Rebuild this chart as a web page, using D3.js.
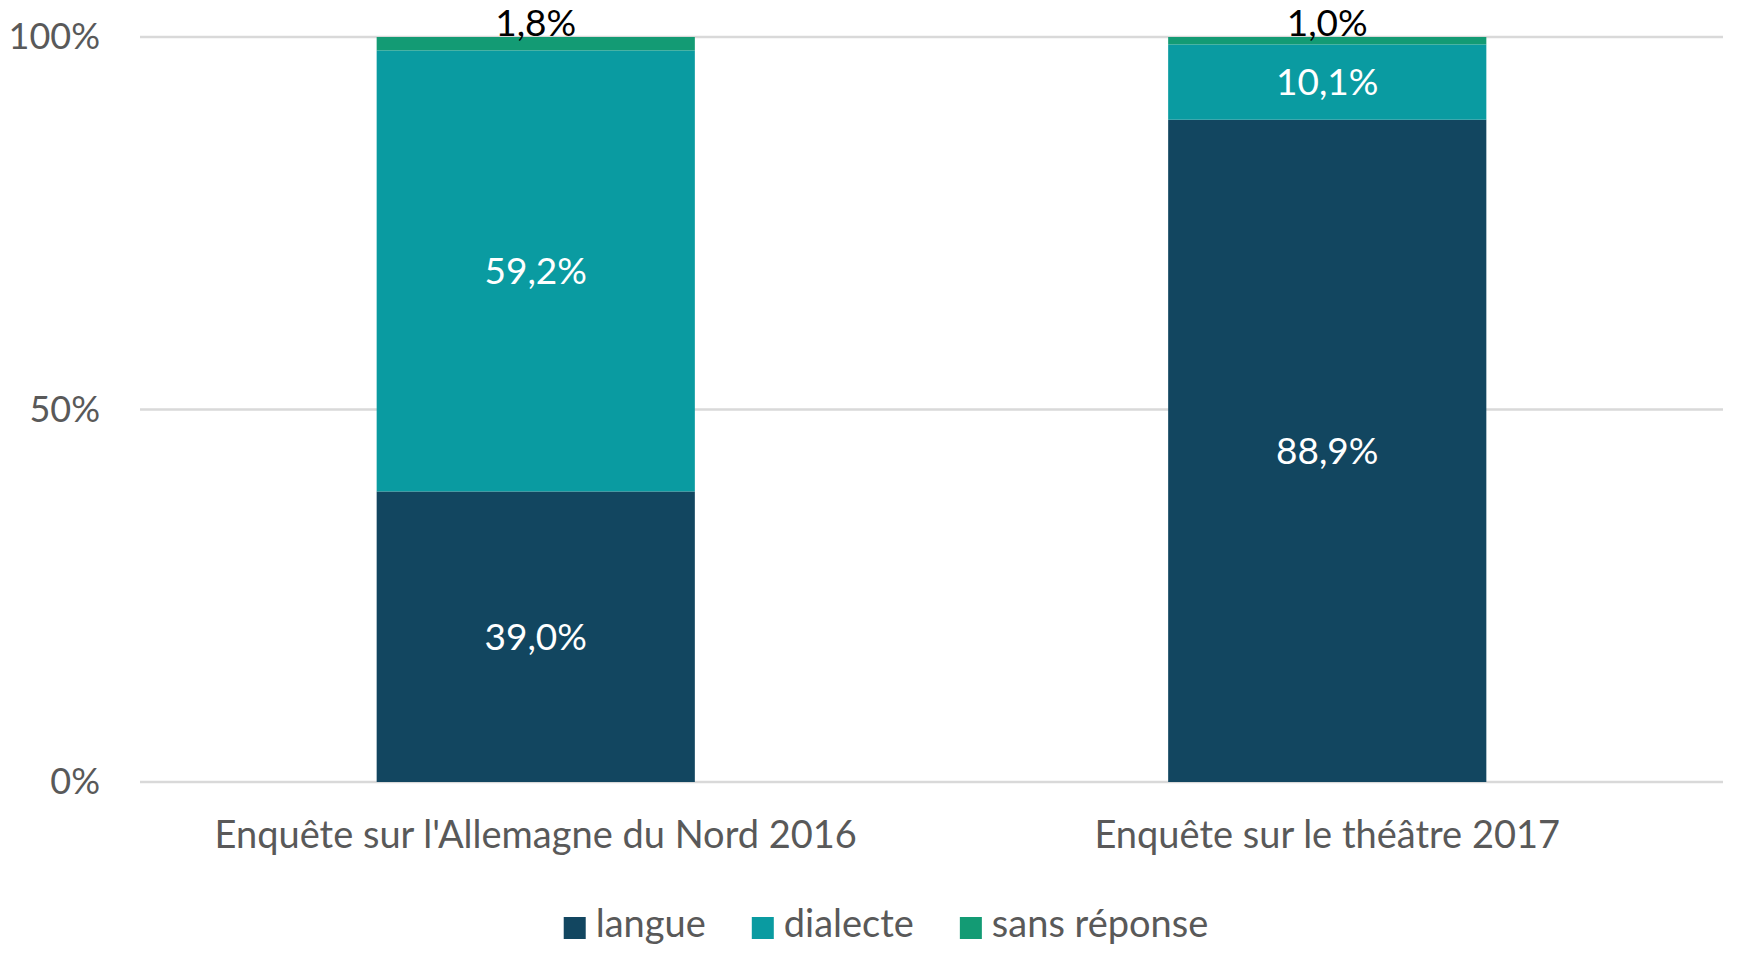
<!DOCTYPE html>
<html>
<head>
<meta charset="utf-8">
<script src="https://cdn.jsdelivr.net/npm/d3@7.9.0/dist/d3.min.js"></script>
<style>
  html, body { margin: 0; padding: 0; background: #fff; }
  svg { display: block; font-family: Lato, "Open Sans", sans-serif; }
</style>
</head>
<body>
<svg id="chart" width="1742" height="966"></svg>
<script>
// data
const categories = ["Enquête sur l'Allemagne du Nord 2016", "Enquête sur le théâtre 2017"];
const seriesNames = ["langue", "dialecte", "sans réponse"];
const langue = [39.0, 88.9];
const dialecte = [59.2, 10.1];
const sansReponse = [1.8, 1.0];
const yTicks = [0, 50, 100];

const colors = ["#124660", "#0a9ba1", "#139b74"];

const svg = d3.select("#chart");
const margin = { top: 37, right: 19, bottom: 184, left: 140 };
const width = 1742 - margin.left - margin.right;
const height = 966 - margin.top - margin.bottom;

const g = svg.append("g")
    .attr("transform", `translate(${margin.left},${margin.top})`);

// build rows for the stack
const rows = categories.map((c, i) => ({
    cat: c,
    "langue": langue[i],
    "dialecte": dialecte[i],
    "sans réponse": sansReponse[i]
}));
const stacked = d3.stack().keys(seriesNames)(rows);

const x = d3.scaleBand()
    .domain(categories)
    .range([0, width])
    .paddingInner(0.598)
    .paddingOuter(0.299);
const y = d3.scaleLinear().domain([0, 100]).range([height, 0]);

// gridlines
g.append("g")
    .selectAll("line")
    .data(yTicks)
    .join("line")
    .attr("x1", 0)
    .attr("x2", width)
    .attr("y1", d => y(d))
    .attr("y2", d => y(d))
    .attr("stroke", "#d9d9d9")
    .attr("stroke-width", 2.5);

// y axis labels
const yAxis = g.append("g")
    .call(d3.axisLeft(y).tickValues(yTicks).tickFormat(d => d + "%").tickSize(0).tickPadding(40));
yAxis.select(".domain").remove();
yAxis.selectAll("text")
    .attr("fill", "#595959")
    .style("font-size", "36px")
    .style("font-family", "Lato, sans-serif");

// bars
const layers = g.selectAll(".layer")
    .data(stacked)
    .join("g")
    .attr("class", "layer")
    .attr("fill", (d, i) => colors[i]);

layers.selectAll("rect")
    .data(d => d)
    .join("rect")
    .attr("x", d => x(d.data.cat))
    .attr("width", x.bandwidth())
    .attr("y", d => y(d[1]))
    .attr("height", d => y(d[0]) - y(d[1]));

// value labels
const fmt = v => v.toFixed(1).replace(".", ",") + "%";
stacked.forEach((layer, li) => {
    layer.forEach(d => {
        const v = d[1] - d[0];
        const top = li === seriesNames.length - 1;
        g.append("text")
            .attr("x", x(d.data.cat) + x.bandwidth() / 2)
            .attr("y", top ? y(d[1]) - 1 : (y(d[0]) + y(d[1])) / 2)
            .attr("dy", top ? 0 : "0.36em")
            .attr("text-anchor", "middle")
            .attr("fill", top ? "#000" : "#fff")
            .style("font-size", "37px")
            .text(fmt(v));
    });
});

// x axis labels
g.append("g")
    .selectAll("text")
    .data(categories)
    .join("text")
    .attr("x", d => x(d) + x.bandwidth() / 2)
    .attr("y", height + 66)
    .attr("text-anchor", "middle")
    .attr("fill", "#595959")
    .style("font-size", "38px")
    .text(d => d);

// legend, centered under the chart
const legend = svg.append("g");
let lx = 0;
seriesNames.forEach((name, i) => {
    const item = legend.append("g").attr("transform", `translate(${lx},0)`);
    item.append("rect")
        .attr("x", 0)
        .attr("y", -20)
        .attr("width", 22)
        .attr("height", 22)
        .attr("fill", colors[i]);
    const t = item.append("text")
        .attr("x", 32)
        .attr("y", 0)
        .attr("fill", "#595959")
        .style("font-size", "38px")
        .text(name);
    lx += 32 + t.node().getComputedTextLength() + 46;
});
const legendWidth = lx - 46;
legend.attr("transform", `translate(${886 - legendWidth / 2},937)`);
</script>
</body>
</html>
